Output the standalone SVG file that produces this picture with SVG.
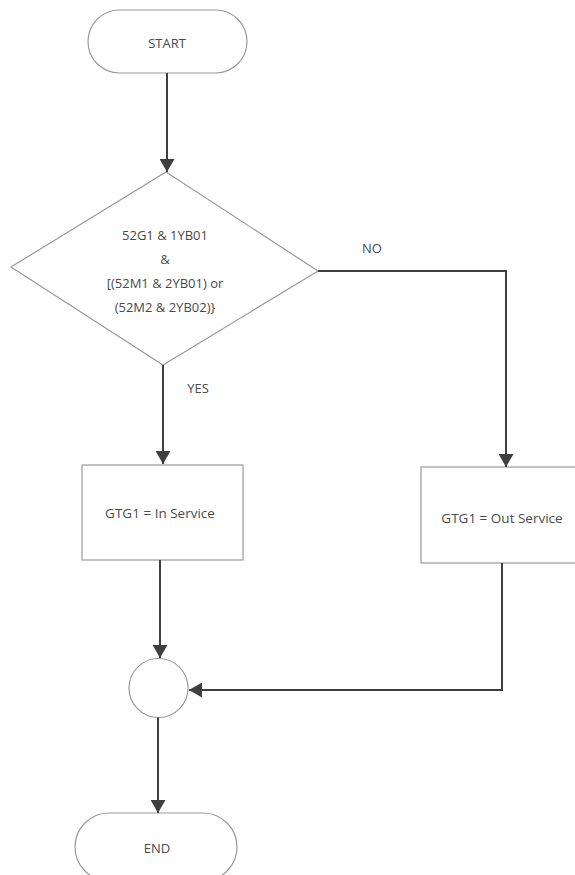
<svg xmlns="http://www.w3.org/2000/svg" width="575" height="875" viewBox="0 0 575 875">
<style>
.shape{fill:#fff;stroke:#9a9a9a;stroke-width:1.2}
.lbl{font-family:"Open Sans","Noto Sans",sans-serif;font-size:13px;fill:#4a4a4a;text-anchor:middle;dominant-baseline:central}
.big{font-size:13.5px}
.edge{fill:none;stroke:#3f3f3f;stroke-width:2}
</style>
<defs>
<marker id="arr" viewBox="0 0 13 15" refX="13" refY="7.5" markerWidth="13" markerHeight="15" markerUnits="userSpaceOnUse" orient="auto">
<path d="M0,0 L13,7.5 L0,15 Z" fill="#3f3f3f"/>
</marker>
</defs>
<rect width="575" height="875" fill="#fff"/>
<g id="start">
<rect class="shape" x="88" y="10" width="159" height="63" rx="31.5"/>
<text class="lbl" x="167" y="43">START</text>
</g>
<g id="decision">
<polygon class="shape" points="166,172 318,271 163,365 11,267"/>
<text class="lbl" x="165" y="235">52G1 &amp; 1YB01</text>
<text class="lbl" x="165" y="259">&amp;</text>
<text class="lbl" x="165" y="283">[(52M1 &amp; 2YB01) or</text>
<text class="lbl" x="165" y="307">(52M2 &amp; 2YB02)}</text>
</g>
<g id="inservice">
<rect class="shape" x="82" y="465" width="161" height="95"/>
<text class="lbl big" x="160" y="513">GTG1 = In Service</text>
</g>
<g id="outservice">
<rect class="shape" x="421" y="467" width="162" height="96"/>
<text class="lbl big" x="502" y="518">GTG1 = Out Service</text>
</g>
<g id="merge">
<circle class="shape" cx="158.5" cy="688" r="29.5"/>
</g>
<g id="end">
<rect class="shape" x="75" y="813" width="162" height="68" rx="34"/>
<text class="lbl" x="157" y="848">END</text>
</g>
<g id="connectors">
<path class="edge" d="M167,73 V172" marker-end="url(#arr)"/>
<path class="edge" d="M163,365 V464" marker-end="url(#arr)"/>
<path class="edge" d="M318,271 H506 V467" marker-end="url(#arr)"/>
<path class="edge" d="M160,560 V658" marker-end="url(#arr)"/>
<path class="edge" d="M502,563 V690 H189" marker-end="url(#arr)"/>
<path class="edge" d="M158,717.5 V813" marker-end="url(#arr)"/>
<text class="lbl" x="372" y="248">NO</text>
<text class="lbl" x="198" y="388">YES</text>
</g>
</svg>
